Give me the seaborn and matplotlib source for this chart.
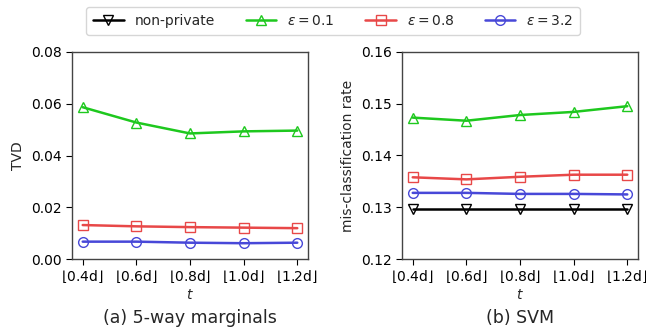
import matplotlib
matplotlib.use("Agg")
import matplotlib.pyplot as plt
import seaborn as sns
import numpy as np

t_labels = [r"$\lfloor 0.4\mathrm{d} \rfloor$", r"$\lfloor 0.6\mathrm{d} \rfloor$", r"$\lfloor 0.8\mathrm{d} \rfloor$",
            r"$\lfloor 1.0\mathrm{d} \rfloor$", r"$\lfloor 1.2\mathrm{d} \rfloor$"]
series_names = ["non-private", r"$\epsilon=0.1$", r"$\epsilon=0.8$", r"$\epsilon=3.2$"]

# (a) 5-way marginals, TVD
tvd_eps01 = [0.0586, 0.0527, 0.0485, 0.0493, 0.0496]
tvd_eps08 = [0.0132, 0.0127, 0.0124, 0.0122, 0.0120]
tvd_eps32 = [0.0068, 0.0068, 0.0064, 0.0062, 0.0064]

# (b) SVM mis-classification rate
svm_nonpriv = [0.1296, 0.1296, 0.1296, 0.1296, 0.1296]
svm_eps01 = [0.1473, 0.1467, 0.1478, 0.1484, 0.1495]
svm_eps08 = [0.1358, 0.1354, 0.1359, 0.1363, 0.1363]
svm_eps32 = [0.1328, 0.1328, 0.1326, 0.1326, 0.1325]

styles = {
    "non-private": dict(color="black", marker="v"),
    r"$\epsilon=0.1$": dict(color="#1ec81e", marker="^"),
    r"$\epsilon=0.8$": dict(color="#e84848", marker="s"),
    r"$\epsilon=3.2$": dict(color="#4848d8", marker="o"),
}

sns.set_style("ticks")
plt.rcParams["font.family"] = ["DejaVu Sans"]
plt.rcParams["mathtext.fontset"] = "dejavusans"

fig = plt.figure(figsize=(6.46, 3.33), dpi=100)
ax1 = fig.add_axes([72/646, 1-259.3/333, 236/646, 207.6/333])
ax2 = fig.add_axes([402/646, 1-259.3/333, 236/646, 207.6/333])

x = np.arange(len(t_labels))
MS = 7
LW = 1.8

def draw(ax, name, vals):
    st = styles[name]
    sns.lineplot(x=x, y=vals, ax=ax, color=st["color"], marker=st["marker"],
                 markersize=MS, markerfacecolor="none", markeredgecolor=st["color"],
                 markeredgewidth=1.0, linewidth=LW, label=name, legend=False)

draw(ax1, r"$\epsilon=0.1$", tvd_eps01)
draw(ax1, r"$\epsilon=0.8$", tvd_eps08)
draw(ax1, r"$\epsilon=3.2$", tvd_eps32)

draw(ax2, "non-private", svm_nonpriv)
draw(ax2, r"$\epsilon=0.1$", svm_eps01)
draw(ax2, r"$\epsilon=0.8$", svm_eps08)
draw(ax2, r"$\epsilon=3.2$", svm_eps32)

ax1.set_ylim(0, 0.08)
ax1.set_yticks([0.0, 0.02, 0.04, 0.06, 0.08])
ax1.set_yticklabels(["0.00", "0.02", "0.04", "0.06", "0.08"])
ax1.set_ylabel("TVD", fontsize=10)

ax2.set_ylim(0.12, 0.16)
ax2.set_yticks([0.12, 0.13, 0.14, 0.15, 0.16])
ax2.set_yticklabels(["0.12", "0.13", "0.14", "0.15", "0.16"])
ax2.set_ylabel("mis-classification rate", fontsize=10)

for ax, cap in [(ax1, "(a) 5-way marginals"), (ax2, "(b) SVM")]:
    ax.set_xticks(x)
    ax.set_xticklabels(t_labels)
    ax.set_xlim(-0.2, 4.2)
    ax.set_xlabel(r"$t$", fontsize=10, labelpad=2)
    ax.tick_params(labelsize=10, colors="black", length=4)
    ax.tick_params(axis="x", pad=2.5)
    for sp in ax.spines.values():
        sp.set_visible(True)
        sp.set_color("#444444")
        sp.set_linewidth(1.0)
    pos = ax.get_position()
    fig.text((pos.x0 + pos.x1) / 2, 1 - 318/333, cap, ha="center", va="center", fontsize=12.5)

handles = [matplotlib.lines.Line2D([], [], color=styles[n]["color"], marker=styles[n]["marker"],
                                   markersize=MS, markerfacecolor="none", markeredgewidth=1.0,
                                   linewidth=LW) for n in series_names]
fig.legend(handles, series_names, loc="upper center", bbox_to_anchor=(333/646, 1.0),
           ncol=4, fontsize=10, frameon=True, handlelength=2.2, columnspacing=2.2,
           borderpad=0.5)

fig.savefig("out.png", dpi=100)
